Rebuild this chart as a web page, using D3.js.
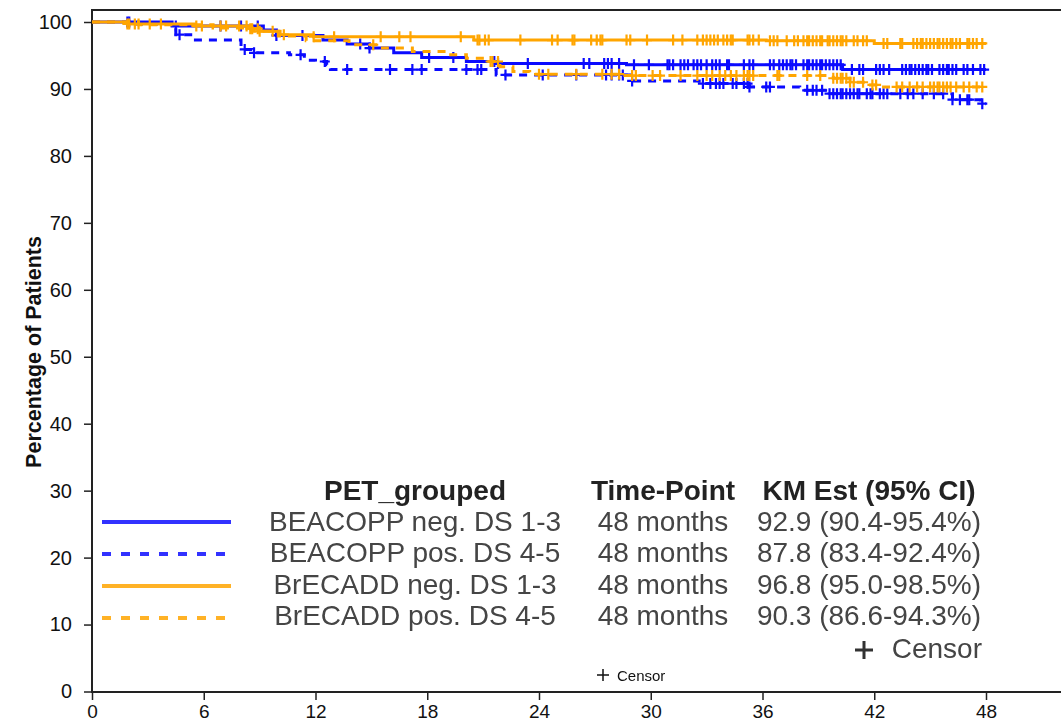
<!DOCTYPE html>
<html>
<head>
<meta charset="utf-8">
<script src="https://cdn.jsdelivr.net/npm/d3@7/dist/d3.min.js"></script>
<style>
  html, body { margin: 0; padding: 0; background: #fff; }
  svg { display: block; font-family: "Liberation Sans", Arial, Helvetica, sans-serif; }
</style>
</head>
<body>
<svg id="chart" width="1061" height="724"></svg>
<script>
// Kaplan-Meier curves by PET group (months vs. percentage of patients)
const xTicks = [0, 6, 12, 18, 24, 30, 36, 42, 48];
const yTicks = [0, 10, 20, 30, 40, 50, 60, 70, 80, 90, 100];

const groupNames = ["BEACOPP neg. DS 1-3", "BEACOPP pos. DS 4-5", "BrECADD neg. DS 1-3", "BrECADD pos. DS 4-5"];
const timePoints = ["48 months", "48 months", "48 months", "48 months"];
const kmEstimates = ["92.9 (90.4-95.4%)", "87.8 (83.4-92.4%)", "96.8 (95.0-98.5%)", "90.3 (86.6-94.3%)"];

// step times (months) and survival (%) after each step
const beacoppNegTimes = [0, 4.3, 9.2, 9.9, 12.4, 13.7, 14.9, 16.2, 17.7, 20.1, 21.7, 28.7, 40.3];
const beacoppNegSurv  = [100, 99.4, 98.8, 98.0, 97.3, 96.7, 96.1, 95.4, 94.7, 94.1, 93.8, 93.6, 92.9];
const beacoppPosTimes = [0, 2.0, 4.5, 5.3, 8.0, 8.6, 10.6, 11.4, 12.0, 12.6, 12.8, 21.7, 29.0, 32.6, 35.3, 38.0, 39.6, 46.2, 47.7];
const beacoppPosSurv  = [100, 99.7, 98.1, 97.3, 95.9, 95.4, 95.1, 94.3, 94.1, 93.6, 92.9, 92.1, 91.2, 90.8, 90.3, 89.8, 89.3, 88.4, 87.8];
const brecaddNegTimes = [0, 1.9, 5.5, 8.5, 9.0, 10.1, 11.9, 20.5, 36.2, 42.0];
const brecaddNegSurv  = [100, 99.7, 99.4, 99.0, 98.6, 98.1, 97.8, 97.3, 97.2, 96.8];
const brecaddPosTimes = [0, 2.5, 6.5, 8.6, 10.0, 11.5, 13.8, 15.5, 17.2, 19.0, 20.1, 21.2, 21.9, 22.6, 23.5, 28.5, 39.8, 40.7, 41.6, 42.3];
const brecaddPosSurv  = [100, 99.6, 99.1, 98.6, 97.9, 97.2, 96.6, 96.1, 95.6, 95.1, 94.6, 94.1, 93.3, 92.6, 92.2, 92.0, 91.6, 91.0, 90.6, 90.3];

// censoring times (months)
const beacoppNegCensor = [1.9, 2.0, 4.5, 6.9, 8.0, 8.9, 9.9, 11.3, 14.4, 14.9, 18.1, 19.4, 21.6, 21.8, 23.4, 26.4, 26.7, 27.5, 27.7, 27.9, 28.3, 29.1, 29.9, 30.9, 31.0, 31.2, 31.6, 31.8, 32.0, 32.3, 32.5, 32.7, 33.0, 33.3, 33.5, 33.7, 34.1, 34.2, 35.0, 35.3, 35.5, 36.4, 36.6, 36.9, 37.1, 37.3, 37.5, 37.6, 37.8, 38.2, 38.4, 38.5, 38.7, 38.9, 39.1, 39.2, 39.4, 39.6, 39.8, 40.0, 40.2, 40.8, 41.2, 41.4, 42.1, 42.3, 42.5, 42.8, 43.5, 43.7, 43.9, 44.0, 44.2, 44.4, 44.6, 44.8, 44.9, 45.1, 45.5, 45.7, 45.9, 46.0, 46.2, 46.4, 46.8, 47.0, 47.3, 47.7, 47.9];
const beacoppPosCensor = [4.7, 8.2, 8.7, 11.2, 12.5, 13.7, 16.0, 17.2, 17.7, 20.1, 20.7, 20.9, 22.2, 24.2, 26.0, 27.6, 27.9, 28.3, 28.5, 29.0, 32.8, 33.2, 33.5, 33.7, 33.9, 34.4, 34.6, 35.0, 35.2, 35.3, 36.2, 36.4, 38.4, 38.7, 38.9, 39.2, 39.6, 39.8, 40.0, 40.2, 40.3, 40.5, 40.7, 40.9, 41.1, 41.2, 41.6, 41.8, 41.9, 42.3, 42.5, 42.7, 43.4, 43.8, 44.1, 44.6, 45.2, 45.7, 46.2, 46.6, 47.0, 47.1, 47.8];
const brecaddNegCensor = [1.9, 2.0, 2.3, 2.5, 3.1, 3.7, 5.6, 5.9, 6.9, 7.2, 7.9, 8.3, 8.5, 8.6, 8.9, 9.0, 9.7, 10.3, 11.9, 13.0, 15.5, 16.5, 17.1, 19.8, 20.7, 20.8, 21.1, 21.3, 23.0, 24.7, 25.0, 25.8, 25.9, 26.8, 27.1, 27.3, 27.4, 28.7, 28.9, 29.8, 31.2, 31.7, 32.5, 32.8, 33.0, 33.2, 33.4, 33.6, 33.9, 34.1, 34.3, 34.4, 35.2, 35.3, 35.5, 35.8, 36.4, 36.6, 36.8, 37.3, 37.7, 37.9, 38.2, 38.4, 38.5, 38.7, 38.9, 39.1, 39.2, 39.5, 39.6, 39.8, 40.0, 40.2, 40.3, 40.5, 40.9, 41.1, 41.4, 41.6, 42.5, 42.7, 43.4, 43.5, 44.1, 44.3, 44.5, 44.6, 44.8, 45.0, 45.2, 45.4, 45.5, 45.7, 45.9, 46.1, 46.2, 46.4, 46.6, 47.0, 47.1, 47.3, 47.5, 47.8];
const brecaddPosCensor = [15.1, 21.4, 21.5, 21.8, 24.0, 24.5, 26.0, 27.4, 27.9, 28.3, 29.0, 29.2, 30.1, 30.5, 31.6, 32.5, 33.0, 33.3, 33.7, 34.0, 34.3, 34.6, 35.0, 35.2, 35.3, 35.5, 36.8, 36.9, 38.4, 39.1, 39.8, 40.0, 40.2, 40.3, 40.5, 40.7, 40.9, 41.4, 41.9, 42.1, 43.2, 43.5, 43.9, 44.3, 44.6, 45.0, 45.2, 45.4, 45.5, 45.7, 45.9, 46.1, 46.4, 46.8, 47.1, 47.5, 47.8];

const BLUE = "#0a0aff";
const ORANGE = "#ffa500";

const series = [
  { times: beacoppNegTimes, surv: beacoppNegSurv, censor: beacoppNegCensor, color: BLUE, dash: null },
  { times: beacoppPosTimes, surv: beacoppPosSurv, censor: beacoppPosCensor, color: BLUE, dash: "8,7" },
  { times: brecaddNegTimes, surv: brecaddNegSurv, censor: brecaddNegCensor, color: ORANGE, dash: null },
  { times: brecaddPosTimes, surv: brecaddPosSurv, censor: brecaddPosCensor, color: ORANGE, dash: "8,7" }
];
const endTime = 48;

const svg = d3.select("#chart");
const x = d3.scaleLinear().domain([0, 48]).range([92, 986]);
const y = d3.scaleLinear().domain([0, 100]).range([691.5, 22]);

// y axis
const yAxis = svg.append("g")
  .attr("transform", "translate(92,0)")
  .call(d3.axisLeft(y).tickValues(yTicks).tickSize(8).tickPadding(12).tickFormat(d3.format("d")));
yAxis.select(".domain").remove();
yAxis.selectAll(".tick line").attr("stroke", "#222").attr("stroke-width", 1.5);
yAxis.selectAll(".tick text").attr("font-size", 20).attr("fill", "#111")
  .attr("font-family", "'Liberation Sans', Arial, sans-serif");

// x axis
const xAxis = svg.append("g")
  .attr("transform", "translate(0,692)")
  .call(d3.axisBottom(x).tickValues(xTicks).tickSize(8).tickPadding(5));
xAxis.select(".domain").remove();
xAxis.selectAll(".tick line").attr("stroke", "#222").attr("stroke-width", 1.5);
xAxis.selectAll(".tick text").attr("font-size", 19).attr("fill", "#111")
  .attr("font-family", "'Liberation Sans', Arial, sans-serif");

// frame
svg.append("path")
  .attr("d", "M1070,10H92V692H1070")
  .attr("fill", "none").attr("stroke", "#222").attr("stroke-width", 2);

// y title
svg.append("text")
  .attr("transform", "translate(41,352) rotate(-90)")
  .attr("text-anchor", "middle")
  .attr("font-size", 21.5).attr("font-weight", "bold").attr("fill", "#111")
  .text("Percentage of Patients");

function survAt(s, t) {
  let v = s.surv[0];
  for (let i = 0; i < s.times.length; i++) if (s.times[i] <= t) v = s.surv[i];
  return v;
}

const line = d3.line().curve(d3.curveStepAfter).x(d => x(d[0])).y(d => y(d[1]));
const plot = svg.append("g");

series.forEach(s => {
  const pts = s.times.map((t, i) => [t, s.surv[i]]);
  pts.push([endTime, s.surv[s.surv.length - 1]]);
  plot.append("path")
    .datum(pts)
    .attr("d", line)
    .attr("fill", "none")
    .attr("stroke", s.color)
    .attr("stroke-width", 3)
    .attr("stroke-dasharray", s.dash);
  plot.append("g").selectAll("path")
    .data(s.censor)
    .join("path")
    .attr("transform", t => `translate(${x(t)},${y(survAt(s, t))})`)
    .attr("d", "M-5,0H5M0,-5.5V5.5")
    .attr("stroke", s.color)
    .attr("stroke-width", 2.2)
    .attr("fill", "none");
});

// legend table
const defs = svg.append("defs");
defs.append("filter").attr("id", "soft")
  .append("feGaussianBlur").attr("stdDeviation", 0.45);

const legend = svg.append("g").attr("filter", "url(#soft)");
const lgFont = 28;
const headerY = 500;
const rowY = [531, 562, 594, 625];
const lineY = [522, 554, 586, 618];
const colGroup = 415, colTime = 663, colKm = 869;

[["PET_grouped", colGroup], ["Time-Point", colTime], ["KM Est (95% CI)", colKm]].forEach(([t, cx]) => {
  legend.append("text").attr("x", cx).attr("y", headerY)
    .attr("text-anchor", "middle").attr("font-size", lgFont).attr("font-weight", "bold")
    .attr("fill", "#222").text(t);
});

series.forEach((s, i) => {
  legend.append("line")
    .attr("x1", 102).attr("x2", 231)
    .attr("y1", lineY[i]).attr("y2", lineY[i])
    .attr("stroke", s.color).attr("stroke-width", 4)
    .attr("stroke-dasharray", s.dash ? "9,10" : null)
    .attr("opacity", 0.85);
  legend.append("text").attr("x", colGroup).attr("y", rowY[i])
    .attr("text-anchor", "middle").attr("font-size", lgFont).attr("fill", "#444").text(groupNames[i]);
  legend.append("text").attr("x", colTime).attr("y", rowY[i])
    .attr("text-anchor", "middle").attr("font-size", lgFont).attr("fill", "#444").text(timePoints[i]);
  legend.append("text").attr("x", colKm).attr("y", rowY[i])
    .attr("text-anchor", "middle").attr("font-size", lgFont).attr("fill", "#444").text(kmEstimates[i]);
});

// large censor key
legend.append("path")
  .attr("d", "M855,650H873M864,641V659")
  .attr("stroke", "#333").attr("stroke-width", 3);
legend.append("text").attr("x", 982).attr("y", 658)
  .attr("text-anchor", "end").attr("font-size", lgFont).attr("fill", "#444").text("Censor");

// small censor key
svg.append("path")
  .attr("d", "M597,675H609M603,669V681")
  .attr("stroke", "#111").attr("stroke-width", 1.5);
svg.append("text").attr("x", 617).attr("y", 681)
  .attr("font-size", 15).attr("fill", "#111").text("Censor");
</script>
</body>
</html>
